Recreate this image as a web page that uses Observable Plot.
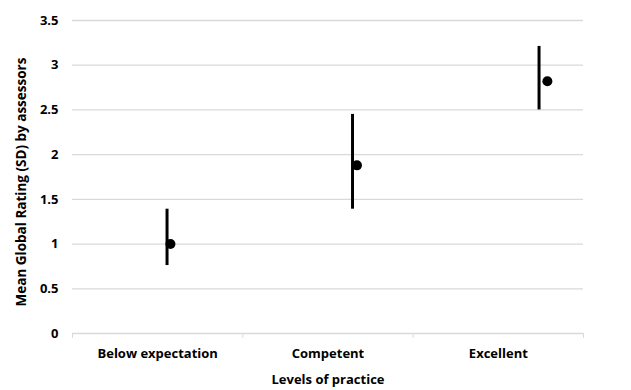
<!DOCTYPE html>
<html><head><meta charset="utf-8">
<script src="https://cdn.jsdelivr.net/npm/d3@7"></script>
<script src="https://cdn.jsdelivr.net/npm/@observablehq/plot@0.6"></script>
<style>body{margin:0;background:#fff;} svg{font-family:"Open Sans", sans-serif;}</style>
</head><body><div id="chart"></div>
<script>
const categories = ["Below expectation", "Competent", "Excellent"];
const means = [1.0, 1.88, 2.82];
const sdLow = [0.76, 1.39, 2.50];
const sdHigh = [1.39, 2.45, 3.21];
const yTicks = [0, 0.5, 1, 1.5, 2, 2.5, 3, 3.5];
// horizontal placement within each category band (fraction of band)
const barPos = [0.555, 0.644, 0.739];
const dotPos = [0.575, 0.670, 0.788];

const bars = categories.map((c, i) => ({c, x: i + barPos[i], lo: sdLow[i], hi: sdHigh[i]}));
const dots = categories.map((c, i) => ({c, x: i + dotPos[i], m: means[i]}));
const labels = categories.map((c, i) => ({c, x: i + 0.5}));

const F = "'Open Sans', sans-serif";
const chart = Plot.plot({
  width: 631, height: 390,
  marginLeft: 72, marginRight: 48, marginTop: 20, marginBottom: 57,
  style: {fontFamily: F, fontSize: "13px", fontWeight: "bold", color: "#000"},
  x: {domain: [0, 3]},
  y: {domain: [0, 3.5]},
  marks: [
    Plot.ruleY(yTicks, {x1: 0, x2: 3, y: d => d, stroke: "#d9d9d9", strokeWidth: 1.3, strokeOpacity: 1}),
    Plot.axisY({ticks: yTicks, tickSize: 0, tickPadding: 14, tickFormat: d => String(d), fontSize: 13, fontWeight: "bold", label: null}),
    Plot.text(["Mean Global Rating (SD) by assessors"], {frameAnchor: "left", dx: -51, dy: 5, rotate: -90, textAnchor: "middle", fontSize: 13.5, fontWeight: "bold", fill: "#000"}),
    Plot.axisX({ticks: [0, 1, 2, 3], tickSize: 5, stroke: "#d9d9d9", tickFormat: () => "", label: null}),
    Plot.text(labels, {x: "x", text: "c", frameAnchor: "bottom", dy: 24, fontSize: 13, fontWeight: "bold", fill: "#000"}),
    Plot.text(["Levels of practice"], {frameAnchor: "bottom", dy: 50, fontSize: 13, fontWeight: "bold", fill: "#000"}),
    Plot.ruleX(bars, {x: "x", y1: "lo", y2: "hi", stroke: "#000", strokeWidth: 3}),
    Plot.dot(dots, {x: "x", y: "m", r: 5, fill: "#000", stroke: "none"})
  ]
});
document.getElementById("chart").appendChild(chart);
</script></body></html>
